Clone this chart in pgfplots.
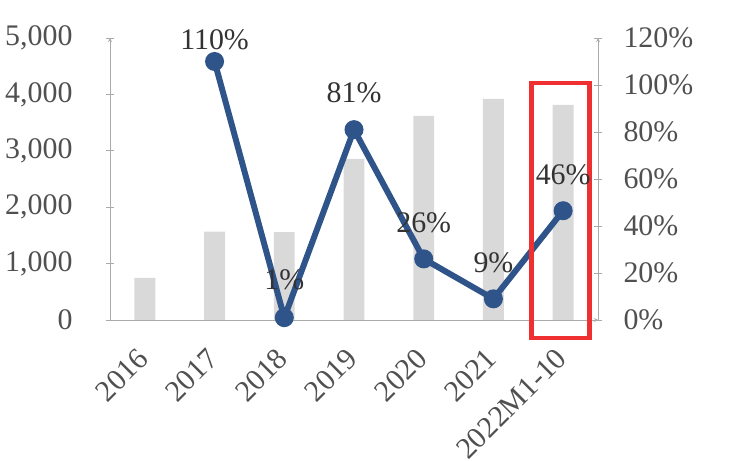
\documentclass[border=0pt]{standalone}
\usepackage{pgfplots}
\pgfplotsset{compat=1.18}
\usepackage{fontspec}
\setmainfont{Liberation Serif}
\definecolor{bargray}{RGB}{217,217,217}
\definecolor{lineblue}{RGB}{46,84,138}
\definecolor{txtgray}{RGB}{80,80,80}
\definecolor{axgray}{RGB}{170,170,170}
\definecolor{boxred}{RGB}{240,48,48}
\begin{document}
\begin{tikzpicture}[x=1bp,y=1bp]
\useasboundingbox (-110,-141) rectangle (634,320);
\pgfplotsset{
  common/.style={
    scale only axis, width=488bp, height=282bp,
    xmin=-0.5, xmax=6.5,
    /pgf/number format/assume math mode=true,
    tick label style={font=\fontsize{30}{34}\selectfont, text=txtgray},
    axis line style={draw=axgray, line width=0.8pt, -},
    tick style={draw=axgray, line width=0.8pt},
    tick align=outside, major tick length=8bp,
    clip=false,
  }
}
\begin{axis}[common,
  axis x line=bottom, axis y line=left,
  ymin=0, ymax=5000, ytick={0,1000,...,5000},
  /pgf/number format/.cd, 1000 sep={,}, /pgfplots/.cd,
  xtick={0,...,6},
  xticklabels={2016,2017,2018,2019,2020,2021,2022M1-10},
  xtick style={draw=none},
  xticklabel style={xshift=-1bp, yshift=-29bp, rotate=45, anchor=east, inner sep=1pt},
  yticklabel style={xshift=-30bp},
]
\addplot[ybar, bar width=0.3, fill=bargray, draw=none] coordinates {
  (0,745) (1,1565) (2,1560) (3,2855) (4,3620) (5,3920) (6,3815)
};
\end{axis}
\begin{axis}[common,
  axis x line=none, axis y line=right,
  ymin=0, ymax=120, ytick={0,20,...,120},
  yticklabel={\pgfmathprintnumber{\tick}\%},
  yticklabel style={xshift=18bp},
  xtick=\empty,
]
\addplot[lineblue, line width=6pt, mark=*, mark size=6.5pt,
  mark options={fill=lineblue, draw=lineblue},
  nodes near coords={\pgfplotspointmeta\%},
  point meta=explicit symbolic,
  visualization depends on={\thisrow{off}\as\labeloff},
  every node near coord/.append style={anchor=center, yshift=\labeloff bp,
    font=\fontsize{30}{34}\selectfont, text=black!80}]
  table[x=x, y=y, meta=lab] {
  x y    lab off
  1 110  110 22
  2 1    1   38
  3 81   81  37
  4 26   26  36
  5 9    9   36
  6 46.5 46  36
};
\draw[boxred, line width=4.5pt] (axis cs:5.547,-7.7) rectangle (axis cs:6.378,100.9);
\end{axis}
\end{tikzpicture}
\end{document}
